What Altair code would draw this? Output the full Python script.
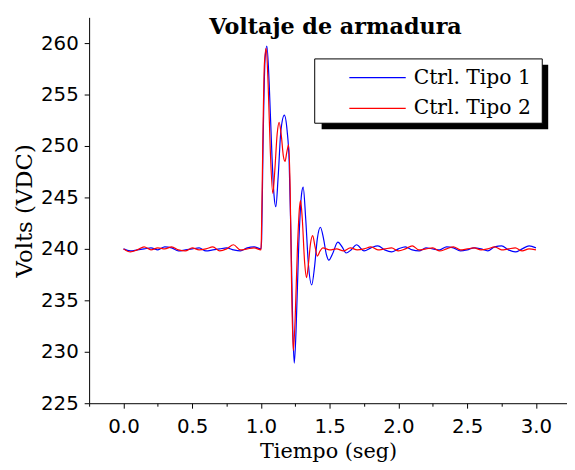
import altair as alt
import pandas as pd

# ---- data ----
series_names = ["Ctrl. Tipo 1", "Ctrl. Tipo 2"]
series_colors = ["#0000ff", "#ff0000"]

t_tipo1 = [0.00, 0.05, 0.10, 0.15, 0.20, 0.25, 0.30, 0.35, 0.40, 0.45, 0.50,
           0.55, 0.60, 0.65, 0.70, 0.75, 0.80, 0.85, 0.90, 0.95, 1.00,
           1.005, 1.015, 1.03, 1.043, 1.06, 1.08, 1.095, 1.108, 1.125, 1.145,
           1.17, 1.19, 1.205, 1.22, 1.232, 1.242, 1.255, 1.275, 1.295, 1.307,
           1.325, 1.345, 1.369, 1.39, 1.41, 1.432, 1.455, 1.475, 1.494, 1.52,
           1.559, 1.59, 1.619, 1.655, 1.695, 1.75, 1.80, 1.85, 1.90, 1.95,
           2.00, 2.05, 2.10, 2.15, 2.20, 2.25, 2.30, 2.35, 2.40, 2.45, 2.50,
           2.55, 2.60, 2.65, 2.70, 2.75, 2.80, 2.85, 2.90, 2.95, 3.00]
v_tipo1 = [240.0, 239.8, 239.9, 240.0, 240.1, 239.9, 240.2, 240.1, 239.8, 239.9, 240.0,
           240.1, 239.8, 239.9, 240.0, 240.1, 239.9, 239.8, 240.1, 240.2, 240.0,
           241.0, 250.0, 258.5, 259.7, 256.0, 249.0, 245.2, 244.1, 247.0, 251.5,
           253.0, 251.5, 248.5, 240.0, 232.0, 228.9, 232.0, 240.5, 245.3, 246.0,
           243.0, 238.5, 236.5, 238.3, 241.0, 242.1, 241.0, 239.5, 238.9, 239.5,
           240.65, 240.2, 239.6, 239.9, 240.4, 239.8, 240.1, 240.3, 239.9, 239.7,
           240.0, 240.2, 239.9, 239.8, 240.1, 240.0, 239.9, 240.2, 240.1, 239.8, 239.9,
           240.1, 240.0, 239.8, 240.2, 240.3, 239.9, 239.7, 240.0, 240.3, 240.1]

t_tipo2 = [0.00, 0.05, 0.10, 0.15, 0.20, 0.25, 0.30, 0.35, 0.40, 0.45, 0.50,
           0.55, 0.60, 0.65, 0.70, 0.75, 0.80, 0.85, 0.90, 0.95, 1.00,
           1.003, 1.013, 1.025, 1.038, 1.052, 1.068, 1.086, 1.10, 1.118, 1.132,
           1.148, 1.163, 1.175, 1.188, 1.201, 1.212, 1.222, 1.235, 1.248, 1.265,
           1.28, 1.288, 1.30, 1.318, 1.331, 1.345, 1.36, 1.376, 1.392, 1.41,
           1.43, 1.45, 1.50, 1.55, 1.60, 1.65, 1.70, 1.75, 1.80, 1.85, 1.90,
           1.95, 2.00, 2.05, 2.10, 2.15, 2.20, 2.25, 2.30, 2.35, 2.40, 2.45,
           2.50, 2.55, 2.60, 2.65, 2.70, 2.75, 2.80, 2.85, 2.90, 2.95, 3.00]
v_tipo2 = [240.0, 239.7, 239.9, 240.2, 239.9, 240.1, 240.0, 240.2, 239.9, 239.8, 240.1,
           239.9, 240.0, 240.2, 239.8, 240.0, 240.4, 239.9, 240.0, 240.1, 239.9,
           241.0, 250.0, 258.0, 259.5, 256.0, 249.5, 245.4, 247.5, 251.2, 252.3,
           251.0, 249.0, 248.5, 249.4, 250.1, 246.0, 237.0, 230.1, 233.0, 240.0,
           244.0, 244.7, 243.0, 238.6, 237.2, 238.5, 240.5, 241.3, 240.3, 239.3,
           239.8, 240.1, 239.9, 240.0, 239.8, 240.1, 239.9, 240.0, 240.2, 239.9, 240.0,
           240.1, 239.8, 240.0, 240.3, 239.9, 240.0, 240.1, 239.8, 240.0, 240.2, 239.9,
           240.0, 240.1, 239.9, 240.0, 240.2, 239.9, 240.0, 240.1, 239.8, 240.0, 239.9]

x_major = [0.0, 0.5, 1.0, 1.5, 2.0, 2.5, 3.0]
x_minor = [-0.25, 0.25, 0.75, 1.25, 1.75, 2.25, 2.75]
y_ticks = [225, 227.5, 230, 232.5, 235, 237.5, 240, 242.5, 245, 247.5,
           250, 252.5, 255, 257.5, 260, 262.5]

title_text = "Voltaje de armadura"
x_title = "Tiempo (seg)"
y_title = "Volts (VDC)"

df = pd.concat([
    pd.DataFrame({"t": t_tipo1, "v": v_tipo1, "serie": series_names[0]}),
    pd.DataFrame({"t": t_tipo2, "v": v_tipo2, "serie": series_names[1]}),
])

SERIF = "DejaVu Serif"
SANS = "DejaVu Sans"

x_scale = alt.Scale(domain=[-0.25, 3.226], nice=False, zero=False)
x_enc = alt.X("t:Q", scale=x_scale,
              axis=alt.Axis(values=x_major, title=x_title, format=".1f",
                            tickSize=5, labelPadding=9, titlePadding=4,
                            labelOverlap=False, labelFlush=False,
                            titleFontSize=21))
x_enc_minor = alt.X("t:Q", scale=x_scale,
                    axis=alt.Axis(values=x_minor, orient="bottom", labels=False,
                                  tickSize=3, domain=False, title=None))
y_enc = alt.Y("v:Q", scale=alt.Scale(domain=[225, 262.5], nice=False, zero=False),
              axis=alt.Axis(values=y_ticks, title=y_title,
                            labelExpr="datum.value % 5 != 0 ? '' : format(datum.value, 'd')",
                            tickSize={"condition": {"test": "datum.value % 5 != 0", "value": 3}, "value": 5},
                            labelPadding=6, titlePadding=4, labelOverlap=False,
                            titleFontSize=23))

base = alt.Chart(df)
line1 = base.transform_filter(alt.datum.serie == series_names[0]).mark_line(
    color=series_colors[0], strokeWidth=1.2, interpolate="monotone", clip=True
).encode(x=x_enc, y=y_enc)
line2 = base.transform_filter(alt.datum.serie == series_names[1]).mark_line(
    color=series_colors[1], strokeWidth=1.2, interpolate="monotone", clip=True
).encode(x=x_enc_minor, y="v:Q")

one = alt.Data(values=[{"a": 0}])
title_mark = alt.Chart(one).mark_text(
    font=SERIF, fontSize=22.5, fontWeight="bold", color="black",
    align="center", baseline="alphabetic"
).encode(x=alt.value(249), y=alt.value(17), text=alt.value(title_text))

shadow = alt.Chart(one).mark_rect(color="black").encode(
    x=alt.value(235), x2=alt.value(464), y=alt.value(48), y2=alt.value(113))
box = alt.Chart(one).mark_rect(fill="white", stroke="black", strokeWidth=1).encode(
    x=alt.value(228), x2=alt.value(458), y=alt.value(42), y2=alt.value(107))
leg_line1 = alt.Chart(one).mark_rule(color=series_colors[0], strokeWidth=1.2).encode(
    x=alt.value(263), x2=alt.value(320), y=alt.value(61))
leg_line2 = alt.Chart(one).mark_rule(color=series_colors[1], strokeWidth=1.2).encode(
    x=alt.value(263), x2=alt.value(320), y=alt.value(92))
leg_txt1 = alt.Chart(one).mark_text(font=SERIF, fontSize=20.5, align="left", baseline="middle",
                                    color="black").encode(
    x=alt.value(328), y=alt.value(61), text=alt.value(series_names[0]))
leg_txt2 = alt.Chart(one).mark_text(font=SERIF, fontSize=20.5, align="left", baseline="middle",
                                    color="black").encode(
    x=alt.value(328), y=alt.value(92), text=alt.value(series_names[1]))

chart = alt.layer(
    line1, line2, title_mark, shadow, box, leg_line1, leg_line2, leg_txt1, leg_txt2
).resolve_axis(x="independent").properties(
    width=483, height=390,
    autosize=alt.AutoSizeParams(type="none"),
    padding={"left": 82, "top": 7, "right": 0, "bottom": 62},
).configure_view(stroke=None).configure_axis(
    grid=False, domainColor="black", tickColor="black", labelColor="black",
    titleColor="black", labelFont=SANS, labelFontSize=20, titleFont=SERIF,
    titleFontSize=20, titleFontWeight="normal", domainWidth=1, tickWidth=1
)

chart.save("out.html", embed_options={"renderer": "svg", "actions": False})
